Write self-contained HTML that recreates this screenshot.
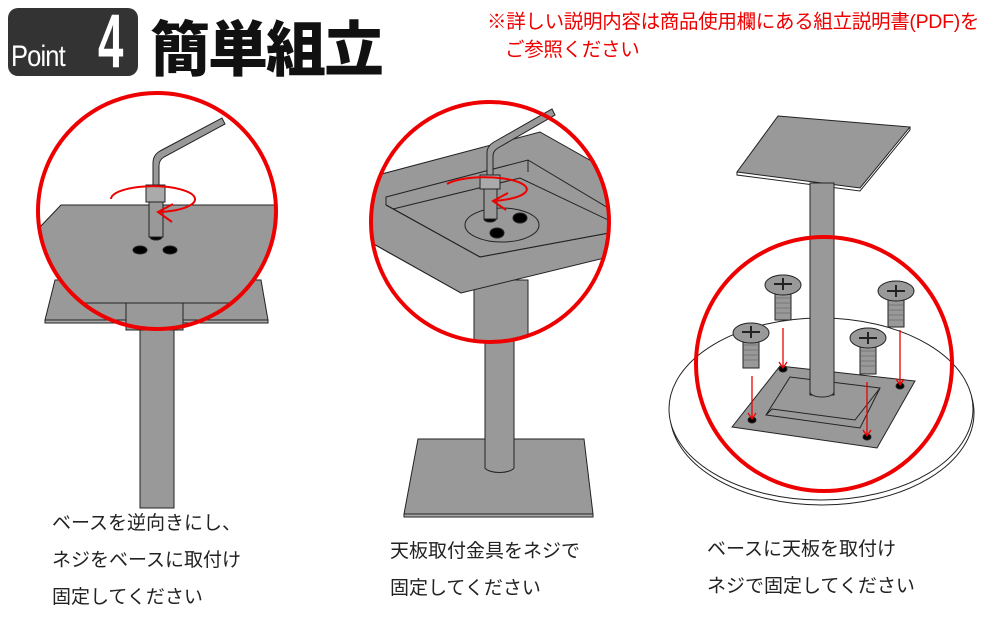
<!DOCTYPE html>
<html><head><meta charset="utf-8"><style>
body{margin:0;width:1000px;height:625px;background:#fff;overflow:hidden;position:relative;font-family:"Liberation Sans","Noto Sans CJK JP",sans-serif}
.t{position:absolute;font-size:19px;color:#222;line-height:37px;white-space:nowrap}
</style></head><body>
<div style="position:absolute;left:8px;top:8px;width:130px;height:68px;background:#333;border-radius:10px"></div>
<div style="position:absolute;left:11px;top:40px;font-size:30px;color:#fff;letter-spacing:-1px;transform:scaleX(0.85);transform-origin:left">Point</div>
<div style="position:absolute;left:98px;top:-2px;font-size:76px;font-weight:bold;color:#fff;transform:scaleX(0.6);transform-origin:left">4</div>
<div style="position:absolute;left:150px;top:2px;font-size:60px;font-weight:900;color:#111;font-family:'Noto Sans CJK JP',sans-serif;letter-spacing:-2px">簡単組立</div>
<div style="position:absolute;left:487px;top:8px;font-size:19.5px;color:#e00;line-height:28px;letter-spacing:-0.3px;white-space:nowrap">※詳しい説明内容は商品使用欄にある組立説明書(PDF)を<br><span style="padding-left:18px">ご参照ください</span></div>

<svg width="1000" height="625" style="position:absolute;left:0;top:0" stroke="#222" stroke-width="1">
<defs>
<clipPath id="c1"><ellipse cx="157" cy="211" rx="119" ry="118"/></clipPath>
<clipPath id="c2"><ellipse cx="490" cy="222" rx="119" ry="120"/></clipPath>
</defs>
<!-- Figure 1 -->
<rect x="140" y="320" width="34" height="188" fill="#999"/>
<polygon points="55,280 261,280 268,320 45,320" fill="#999"/>
<rect x="45" y="320" width="223" height="3" fill="#aaa"/>
<rect x="126" y="300" width="57" height="30" fill="#999"/>
<g clip-path="url(#c1)">
<polygon points="61,205 276,205 276,303 40,303 30,240 40,227" fill="#999"/>
<rect x="126" y="303" width="57" height="40" fill="#999"/>
</g>
<ellipse cx="140" cy="250" rx="7" ry="4" fill="#000"/>
<ellipse cx="170" cy="250" rx="7" ry="4" fill="#000"/>
<ellipse cx="156" cy="237" rx="6" ry="3" fill="#000"/>
<rect x="149" y="195" width="14" height="42" fill="#999"/>
<path d="M153,190 L153,163 Q153,155 160,151 L222,118 L225,124 L164,157 Q159,160 159,166 L159,190Z" fill="#999"/>
<rect x="146" y="185" width="19" height="17" fill="#aaa"/>
<path d="M111,199 A42,13 0 1 1 160,212" fill="none" stroke="#e00" stroke-width="2"/>
<path d="M173,204 L158,212 L172,222" fill="none" stroke="#e00" stroke-width="2"/>
<ellipse cx="157" cy="211" rx="119" ry="118" fill="none" stroke="#e00" stroke-width="4"/>
<!-- Figure 2 -->
<polygon points="418,439 584,439 593,514 404,514" fill="#999"/>
<rect x="404" y="514" width="189" height="3" fill="#aaa"/>
<path d="M485,330 L485,468 A15,6 0 0 0 514,468 L514,330Z" fill="#999"/>
<g clip-path="url(#c2)">
<rect x="474" y="280" width="54" height="70" fill="#999"/>
<polygon points="378,175 540,132 625,180 625,253 461,293 370,242 370,177" fill="#999"/>
<polygon points="386,197 528,160 625,218 625,230 480,257 386,205" fill="#999"/>
<polyline points="386,205 480,257 625,230" fill="none"/>
<polyline points="393,209 520,178 625,228" fill="none"/>
<line x1="528" y1="160" x2="528" y2="172"/>
<line x1="461" y1="293" x2="370" y2="242"/>
</g>
<ellipse cx="502" cy="225" rx="37" ry="17" fill="#999"/>
<ellipse cx="520" cy="218" rx="7" ry="5" fill="#000"/>
<ellipse cx="497" cy="233" rx="7" ry="5" fill="#000"/>
<ellipse cx="490" cy="219" rx="6" ry="3" fill="#000"/>
<rect x="484" y="185" width="13" height="34" fill="#999"/>
<path d="M487,180 L487,153 Q487,146 494,142 L552,109 L555,115 L498,148 Q493,151 493,156 L493,180Z" fill="#999"/>
<rect x="480" y="175" width="20" height="14" fill="#aaa"/>
<path d="M447,184 A42,12 0 1 1 493,201" fill="none" stroke="#e00" stroke-width="2"/>
<path d="M508,193 L493,201 L506,210" fill="none" stroke="#e00" stroke-width="2"/>
<ellipse cx="490" cy="222" rx="119" ry="120" fill="none" stroke="#e00" stroke-width="4"/>
<!-- Figure 3 -->
<ellipse cx="822" cy="413" rx="152" ry="92" fill="#fff"/>
<ellipse cx="821" cy="409" rx="152" ry="91" fill="#fff"/>
<polygon points="778,116 910,127 860,188 737,172" fill="#999"/>
<polyline points="737,172 737,175 860,191 910,130 910,127" fill="none"/>
<polygon points="732,427 780,366 915,381 877,448" fill="#999"/>
<polygon points="766,415 790,377 880,388 860,428" fill="#999"/>
<polyline points="766,415 772,409 855,420 880,388" fill="none"/>
<rect x="810" y="183" width="24" height="212" fill="#999"/>
<path d="M810,392 A12,5 0 0 0 834,392" fill="#999"/>
<ellipse cx="783" cy="369" rx="4" ry="3" fill="#000"/>
<ellipse cx="752" cy="420" rx="4" ry="3" fill="#000"/>
<ellipse cx="900" cy="386" rx="4" ry="3" fill="#000"/>
<ellipse cx="867" cy="437" rx="4" ry="3" fill="#000"/>
<g fill="#999">
<rect x="775" y="290" width="16" height="30"/><ellipse cx="783" cy="285" rx="18" ry="10"/>
<path d="M774,284h18M783,278v12" stroke-width="2" fill="none"/>
<rect x="888" y="297" width="16" height="30"/><ellipse cx="896" cy="291" rx="18" ry="10"/>
<path d="M887,291h18M896,285v12" stroke-width="2" fill="none"/>
<rect x="743" y="336" width="16" height="32"/><ellipse cx="751" cy="333" rx="18" ry="10"/>
<path d="M742,332h18M751,326v12" stroke-width="2" fill="none"/>
<rect x="860" y="342" width="16" height="32"/><ellipse cx="868" cy="338" rx="18" ry="10"/>
<path d="M859,338h18M868,332v12" stroke-width="2" fill="none"/>
</g>
<g stroke="#777" stroke-width="1">
<path d="M776,298h14M776,303h14M776,308h14M776,313h14"/>
<path d="M889,305h14M889,310h14M889,315h14M889,320h14"/>
<path d="M744,345h14M744,350h14M744,355h14M744,360h14"/>
<path d="M861,351h14M861,356h14M861,361h14M861,366h14"/>
</g>
<g stroke="#e00" fill="none" stroke-width="1.3">
<path d="M783,328V368M779,362l4,6 4,-6"/>
<path d="M752,376V419M748,413l4,6 4,-6"/>
<path d="M900,330V385M896,379l4,6 4,-6"/>
<path d="M867,382V436M863,430l4,6 4,-6"/>
</g>
<ellipse cx="824" cy="364" rx="128" ry="127" fill="none" stroke="#e00" stroke-width="4"/>
</svg>

<div class="t" style="left:52px;top:505px">ベースを逆向きにし、<br>ネジをベースに取付け<br>固定してください</div>
<div class="t" style="left:390px;top:533px">天板取付金具をネジで<br>固定してください</div>
<div class="t" style="left:707px;top:531px">ベースに天板を取付け<br>ネジで固定してください</div>
</body></html>
